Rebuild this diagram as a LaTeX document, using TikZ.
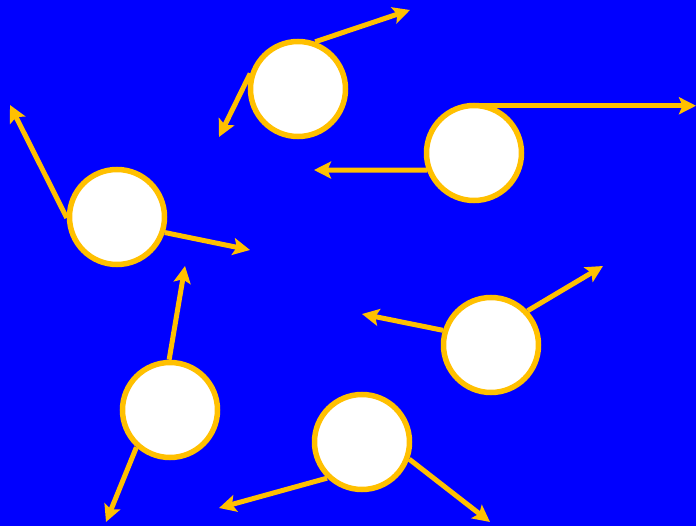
\documentclass[tikz,border=0pt]{standalone}
\usetikzlibrary{arrows.meta}
\definecolor{bgblue}{HTML}{0000FF}
\definecolor{gold}{HTML}{FFC000}
\pgfdeclarelayer{back}
\pgfdeclarelayer{bottom}
\pgfsetlayers{bottom,back,main}
\tikzset{
  ball/.style={circle, draw=gold, fill=white, line width=5.5pt, minimum size=95pt, inner sep=0pt},
  vel/.style={draw=gold, line width=5pt, -{Stealth[length=17pt,width=17pt,inset=3.5pt]}}
}
\begin{document}
\begin{tikzpicture}[x=1pt,y=-1pt]
\begin{pgfonlayer}{bottom}
\fill[bgblue] (0,0) rectangle (696,526);
\end{pgfonlayer}
\useasboundingbox (0,0) rectangle (696,526);
% balls
\node[ball] (c1) at (298,89) {};
\node[ball] (c2) at (117,217) {};
\node[ball] (c3) at (474,153) {};
\node[ball] (c4) at (170,410) {};
\node[ball] (c5) at (362,442) {};
\node[ball] (c6) at (491,345) {};
% tips
\coordinate (t1a) at (410,10);
\coordinate (t1b) at (219,137);
\coordinate (t2a) at (10,105);
\coordinate (t2b) at (250,250);
\coordinate (s3a) at ([xshift=-4pt,yshift=-3pt]c3.north);
\coordinate (t3a) at (696,105);
\coordinate (t3b) at (314,170);
\coordinate (t4a) at (185,266);
\coordinate (t4b) at (106,522);
\coordinate (t5a) at (219,508);
\coordinate (t5b) at (490,522);
\coordinate (t6a) at (362,314);
\coordinate (t6b) at (603,266);
% velocities
\begin{pgfonlayer}{back}
\draw[vel] (c1.70) -- (t1a);
\draw[vel] (c1.162) -- (t1b);
\draw[vel] (c2.181) -- (t2a);
\draw[vel] (c2.342) -- (t2b);
\draw[vel] (s3a) -- (s3a -| t3a);
\draw[vel] (c3.200) -- (t3b);
\draw[vel] (c4.91) -- (t4a);
\draw[vel] (c4.228) -- (t4b);
\draw[vel] (c5.226) -- (t5a);
\draw[vel] (c5.340) -- (t5b);
\draw[vel] (c6.163) -- (t6a);
\draw[vel] (c6.43) -- (t6b);
\end{pgfonlayer}
\end{tikzpicture}
\end{document}
